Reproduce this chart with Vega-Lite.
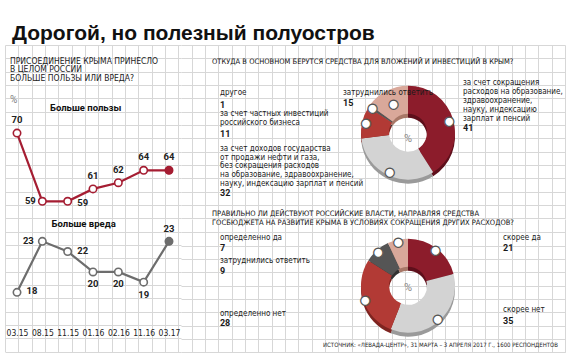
{
  "$schema": "https://vega.github.io/schema/vega-lite/v6.json",
  "background": "white",
  "padding": {"left": 5, "top": 23, "right": 5, "bottom": 5},
  "bounds": "flush",
  "spacing": 0,
  "title": {"text": "Дорогой, но полезный полуостров", "anchor": "start", "dx": 7, "offset": 1, "font": "Liberation Sans, Arial, sans-serif", "fontSize": 21, "fontWeight": "bold", "color": "#111111"},
  "config": {"view": {"stroke": null}},
  "datasets": {
    "good": [
      {"date": "03.15", "value": 70}, {"date": "08.15", "value": 59}, {"date": "11.15", "value": 59},
      {"date": "01.16", "value": 61}, {"date": "02.16", "value": 62}, {"date": "11.16", "value": 64}, {"date": "03.17", "value": 64}
    ],
    "bad": [
      {"date": "03.15", "value": 18}, {"date": "08.15", "value": 23}, {"date": "11.15", "value": 22},
      {"date": "01.16", "value": 20}, {"date": "02.16", "value": 20}, {"date": "11.16", "value": 19}, {"date": "03.17", "value": 23}
    ],
    "q1": [
      {"n": 1, "answer": "за счет сокращения\nрасходов на образование,\nздравоохранение,\nнауку, индексацию\nзарплат и пенсий", "value": 41},
      {"n": 2, "answer": "за счет доходов государства\nот продажи нефти и газа,\nбез сокращения расходов\nна образование, здравоохранение,\nнауку, индексацию зарплат и пенсий", "value": 32},
      {"n": 3, "answer": "за счет частных инвестиций\nроссийского бизнеса", "value": 11},
      {"n": 4, "answer": "другое", "value": 1},
      {"n": 5, "answer": "затруднились ответить", "value": 15}
    ],
    "q2": [
      {"n": 1, "answer": "скорее да", "value": 21},
      {"n": 2, "answer": "скорее нет", "value": 35},
      {"n": 3, "answer": "определенно нет", "value": 28},
      {"n": 4, "answer": "затруднились ответить", "value": 9},
      {"n": 5, "answer": "определенно да", "value": 7}
    ]
  },
  "hconcat": [
    {
      "width": 176,
      "height": 306.6,
      "title": {"text": ["ПРИСОЕДИНЕНИЕ КРЫМА ПРИНЕСЛО", "В ЦЕЛОМ РОССИИ", "БОЛЬШЕ ПОЛЬЗЫ ИЛИ ВРЕДА?"], "subtitle": "%", "anchor": "start", "dx": 5, "offset": -60, "font": "Liberation Sans Narrow, Arial Narrow, DejaVu Sans Condensed, sans-serif", "fontSize": 8.5, "fontWeight": "normal", "lineHeight": 8.5, "color": "#222222", "subtitleFont": "Roboto", "subtitleFontSize": 10, "subtitleColor": "#808080", "subtitlePadding": 13},
      "resolve": {"scale": {"x": "independent", "y": "independent"}},
      "layer": [
        {
          "data": {"values": [{}]},
          "mark": {"type": "point", "opacity": 0},
          "encoding": {
            "x": {"datum": 100, "type": "quantitative", "scale": {"domain": [5, 181], "nice": false, "zero": false},
                  "axis": {"orient": "top", "grid": true, "gridColor": "#d7d7d7", "gridWidth": 1, "labels": false, "ticks": false, "domain": false, "title": null,
                           "values": [5, 18.33, 31.67, 45, 58.33, 71.67, 85, 98.33, 111.67, 125, 138.33, 151.67, 165, 178.33]}},
            "y": {"datum": 100, "type": "quantitative", "scale": {"domain": [46.7, 353.3], "reverse": true, "nice": false, "zero": false},
                  "axis": {"orient": "left", "grid": true, "gridColor": "#d7d7d7", "gridWidth": 1, "labels": false, "ticks": false, "domain": false, "title": null,
                           "values": [46.7, 60, 73.3, 86.7, 100, 113.3, 126.7, 140, 153.3, 166.7, 180, 193.3, 206.7, 220, 233.3, 246.7, 260, 273.3, 286.7, 300, 313.3, 326.7, 340, 353.3]}}
          }
        },
        {
          "data": {"name": "good"},
          "encoding": {
            "x": {"field": "date", "type": "ordinal", "scale": {"type": "point", "domain": ["03.15", "08.15", "11.15", "01.16", "02.16", "11.16", "03.17"], "padding": 0.474},
                  "axis": {"orient": "bottom", "offset": -19.3, "labelBaseline": "middle", "labelPadding": 0, "ticks": false, "domain": false, "grid": false, "title": null, "labelAngle": 0, "labelFont": "Liberation Sans Narrow, Arial Narrow, DejaVu Sans Condensed, sans-serif", "labelFontSize": 8.5, "labelColor": "#222222"}},
            "y": {"field": "value", "type": "quantitative", "scale": {"domain": [34.76, 84.21], "nice": false, "zero": false}, "axis": null}
          },
          "layer": [
            {"mark": {"type": "line", "color": "#a51d32", "strokeWidth": 2.2}},
            {"mark": {"type": "point", "filled": true, "fill": "white", "stroke": "#a51d32", "strokeWidth": 1.6, "size": 55, "opacity": 1}},
            {"transform": [{"filter": {"field": "date", "equal": "03.17"}}], "mark": {"type": "point", "filled": true, "color": "#a51d32", "size": 60, "opacity": 1}},
            {"transform": [{"filter": {"field": "date", "oneOf": ["03.15", "01.16", "02.16", "11.16", "03.17"]}}],
             "mark": {"type": "text", "dy": -13, "font": "Roboto", "fontWeight": "bold", "fontSize": 9.5, "color": "#222222"}, "encoding": {"text": {"field": "value", "type": "quantitative"}}},
            {"transform": [{"filter": {"field": "date", "equal": "08.15"}}],
             "mark": {"type": "text", "dx": -12, "font": "Roboto", "fontWeight": "bold", "fontSize": 9.5, "color": "#222222"}, "encoding": {"text": {"field": "value", "type": "quantitative"}}},
            {"transform": [{"filter": {"field": "date", "equal": "11.15"}}],
             "mark": {"type": "text", "dx": 15, "dy": 2, "font": "Roboto", "fontWeight": "bold", "fontSize": 9.5, "color": "#222222"}, "encoding": {"text": {"field": "value", "type": "quantitative"}}},
            {"transform": [{"filter": {"field": "date", "equal": "11.15"}}],
             "mark": {"type": "text", "text": "Больше пользы", "dx": 18, "dy": 2, "font": "Roboto", "fontWeight": "bold", "fontSize": 9.5, "color": "#111111"},
             "encoding": {"y": {"datum": 74.32, "type": "quantitative"}}}
          ]
        },
        {
          "data": {"name": "bad"},
          "encoding": {
            "x": {"field": "date", "type": "ordinal", "scale": {"type": "point", "domain": ["03.15", "08.15", "11.15", "01.16", "02.16", "11.16", "03.17"], "padding": 0.474}, "axis": null},
            "y": {"field": "value", "type": "quantitative", "scale": {"domain": [12.19, 42.25], "nice": false, "zero": false}, "axis": null}
          },
          "layer": [
            {"mark": {"type": "line", "color": "#6d6d6d", "strokeWidth": 2.2}},
            {"mark": {"type": "point", "filled": true, "fill": "white", "stroke": "#6d6d6d", "strokeWidth": 1.6, "size": 55, "opacity": 1}},
            {"transform": [{"filter": {"field": "date", "equal": "03.17"}}], "mark": {"type": "point", "filled": true, "color": "#6d6d6d", "size": 60, "opacity": 1}},
            {"transform": [{"filter": {"field": "date", "oneOf": ["03.15", "11.15"]}}],
             "mark": {"type": "text", "dx": 15, "dy": -1, "font": "Roboto", "fontWeight": "bold", "fontSize": 9.5, "color": "#222222"}, "encoding": {"text": {"field": "value", "type": "quantitative"}}},
            {"transform": [{"filter": {"field": "date", "equal": "08.15"}}],
             "mark": {"type": "text", "dx": -14, "font": "Roboto", "fontWeight": "bold", "fontSize": 9.5, "color": "#222222"}, "encoding": {"text": {"field": "value", "type": "quantitative"}}},
            {"transform": [{"filter": {"field": "date", "oneOf": ["01.16", "02.16", "11.16"]}}],
             "mark": {"type": "text", "dy": 12.5, "font": "Roboto", "fontWeight": "bold", "fontSize": 9.5, "color": "#222222"}, "encoding": {"text": {"field": "value", "type": "quantitative"}}},
            {"transform": [{"filter": {"field": "date", "equal": "03.17"}}],
             "mark": {"type": "text", "dy": -12, "font": "Roboto", "fontWeight": "bold", "fontSize": 9.5, "color": "#222222"}, "encoding": {"text": {"field": "value", "type": "quantitative"}}},
            {"transform": [{"filter": {"field": "date", "equal": "11.15"}}],
             "mark": {"type": "text", "text": "Больше вреда", "dx": 16, "font": "Roboto", "fontWeight": "bold", "fontSize": 9.5, "color": "#111111"},
             "encoding": {"y": {"datum": 24.67, "type": "quantitative"}}}
          ]
        }
      ]
    },
    {
      "spacing": 0,
      "bounds": "flush",
      "title": {"text": "ИСТОЧНИК: «ЛЕВАДА-ЦЕНТР», 31 МАРТА – 3 АПРЕЛЯ 2017 Г., 1600 РЕСПОНДЕНТОВ", "orient": "bottom", "anchor": "end", "dx": -7, "offset": -10, "font": "Liberation Sans Narrow, Arial Narrow, DejaVu Sans Condensed, sans-serif", "fontSize": 6, "fontWeight": "normal", "color": "#222222"},
      "vconcat": [
        {
          "width": 384,
          "height": 173.3,
          "title": {"text": "ОТКУДА В ОСНОВНОМ БЕРУТСЯ СРЕДСТВА ДЛЯ ВЛОЖЕНИЙ И ИНВЕСТИЦИЙ В КРЫМ?", "anchor": "start", "dx": 31, "offset": -20, "font": "Liberation Sans Narrow, Arial Narrow, DejaVu Sans Condensed, sans-serif", "fontSize": 7.5, "fontWeight": "normal", "color": "#111111"},
          "layer": [
            {
              "data": {"values": [{}]},
              "mark": {"type": "point", "opacity": 0},
              "encoding": {
                "x": {"datum": 300, "type": "quantitative", "scale": {"domain": [181, 565], "nice": false, "zero": false},
                      "axis": {"orient": "top", "grid": true, "gridColor": "#d7d7d7", "gridWidth": 1, "labels": false, "ticks": false, "domain": false, "title": null,
                               "values": [191.67, 205, 218.33, 231.67, 245, 258.33, 271.67, 285, 298.33, 311.67, 325, 338.33, 351.67, 365, 378.33, 391.67, 405, 418.33, 431.67, 445, 458.33, 471.67, 485, 498.33, 511.67, 525, 538.33, 551.67, 565]}},
                "y": {"datum": 100, "type": "quantitative", "scale": {"domain": [46.7, 220], "reverse": true, "nice": false, "zero": false},
                      "axis": {"orient": "left", "grid": true, "gridColor": "#d7d7d7", "gridWidth": 1, "labels": false, "ticks": false, "domain": false, "title": null,
                               "values": [46.7, 60, 73.3, 86.7, 100, 113.3, 126.7, 140, 153.3, 166.7, 180, 193.3, 206.7, 220]}}
              }
            },
            {
              "data": {"name": "q1"},
              "encoding": {
                "theta": {"field": "value", "type": "quantitative", "stack": true},
                "order": {"field": "n", "type": "quantitative"}
              },
              "layer": [
                {"mark": {"type": "arc", "outerRadius": 47, "innerRadius": 19, "xOffset": 35, "yOffset": 5},
                 "encoding": {"fill": {"field": "n", "type": "nominal", "scale": {"domain": [1, 2, 3, 4, 5], "range": ["#5e0f1b", "#9a9a9a", "#7e2420", "#333333", "#a87868"]}, "legend": null}}},
                {"mark": {"type": "arc", "outerRadius": 47, "innerRadius": 19, "xOffset": 35, "yOffset": 1},
                 "encoding": {"color": {"field": "n", "type": "nominal", "scale": {"domain": [1, 2, 3, 4, 5], "range": ["#8c1c2b", "#d3d3d3", "#b23a35", "#555555", "#d9a89a"]}, "legend": null}}},
                {"mark": {"type": "text", "radius": 43, "xOffset": 35, "yOffset": 1, "font": "DejaVu Sans", "fontSize": 12, "fill": "white", "stroke": "#555555", "strokeWidth": 1.2, "align": "center", "baseline": "middle"},
                 "encoding": {"detail": {"field": "n", "type": "nominal"}, "text": {"condition": {"test": "datum.n != 5", "value": "●"}, "value": ""}}},
                {"mark": {"type": "text", "radius": 32, "xOffset": 35, "yOffset": 1, "font": "DejaVu Sans", "fontSize": 12, "fill": "white", "stroke": "#555555", "strokeWidth": 1.2, "align": "center", "baseline": "middle"},
                 "encoding": {"detail": {"field": "n", "type": "nominal"}, "text": {"condition": {"test": "datum.n == 5", "value": "●"}, "value": ""}}},
                {"mark": {"type": "text", "radius": 50, "xOffset": 35, "yOffset": 1, "dx": 7, "dy": -36, "align": "left", "baseline": "middle", "lineBreak": "\n", "font": "Liberation Sans Narrow, Arial Narrow, DejaVu Sans Condensed, sans-serif", "fontSize": 8, "lineHeight": 9, "color": "#1a1a1a"},
                 "encoding": {"detail": {"field": "n", "type": "nominal"}, "text": {"condition": {"test": "datum.n == 1", "field": "answer", "type": "nominal"}, "value": ""}}},
                {"mark": {"type": "text", "radius": 50, "xOffset": 35, "yOffset": 1, "dx": 7, "dy": 9.5, "align": "left", "baseline": "middle", "font": "Roboto", "fontWeight": "bold", "fontSize": 9, "color": "#1a1a1a"},
                 "encoding": {"detail": {"field": "n", "type": "nominal"}, "text": {"condition": {"test": "datum.n == 1", "field": "value", "type": "quantitative"}, "value": ""}}},
                {"mark": {"type": "text", "radius": 50, "xOffset": 35, "yOffset": 1, "dx": -166.7, "dy": -28.7, "align": "left", "baseline": "middle", "lineBreak": "\n", "font": "Liberation Sans Narrow, Arial Narrow, DejaVu Sans Condensed, sans-serif", "fontSize": 8, "lineHeight": 8.6, "color": "#1a1a1a"},
                 "encoding": {"detail": {"field": "n", "type": "nominal"}, "text": {"condition": {"test": "datum.n == 2", "field": "answer", "type": "nominal"}, "value": ""}}},
                {"mark": {"type": "text", "radius": 50, "xOffset": 35, "yOffset": 1, "dx": -166.7, "dy": 15.5, "align": "left", "baseline": "middle", "font": "Roboto", "fontWeight": "bold", "fontSize": 9, "color": "#1a1a1a"},
                 "encoding": {"detail": {"field": "n", "type": "nominal"}, "text": {"condition": {"test": "datum.n == 2", "field": "value", "type": "quantitative"}, "value": ""}}},
                {"mark": {"type": "text", "radius": 50, "xOffset": 35, "yOffset": 1, "dx": -139.2, "dy": -7.6, "align": "left", "baseline": "middle", "lineBreak": "\n", "font": "Liberation Sans Narrow, Arial Narrow, DejaVu Sans Condensed, sans-serif", "fontSize": 8, "lineHeight": 9, "color": "#1a1a1a"},
                 "encoding": {"detail": {"field": "n", "type": "nominal"}, "text": {"condition": {"test": "datum.n == 3", "field": "answer", "type": "nominal"}, "value": ""}}},
                {"mark": {"type": "text", "radius": 50, "xOffset": 35, "yOffset": 1, "dx": -139.2, "dy": 12, "align": "left", "baseline": "middle", "font": "Roboto", "fontWeight": "bold", "fontSize": 9, "color": "#1a1a1a"},
                 "encoding": {"detail": {"field": "n", "type": "nominal"}, "text": {"condition": {"test": "datum.n == 3", "field": "value", "type": "quantitative"}, "value": ""}}},
                {"mark": {"type": "text", "radius": 50, "xOffset": 35, "yOffset": 1, "dx": -146.6, "dy": -11.4, "align": "left", "baseline": "middle", "font": "Liberation Sans Narrow, Arial Narrow, DejaVu Sans Condensed, sans-serif", "fontSize": 8, "color": "#1a1a1a"},
                 "encoding": {"detail": {"field": "n", "type": "nominal"}, "text": {"condition": {"test": "datum.n == 4", "field": "answer", "type": "nominal"}, "value": ""}}},
                {"mark": {"type": "text", "radius": 50, "xOffset": 35, "yOffset": 1, "dx": -146.6, "dy": 0, "align": "left", "baseline": "middle", "font": "Roboto", "fontWeight": "bold", "fontSize": 9, "color": "#1a1a1a"},
                 "encoding": {"detail": {"field": "n", "type": "nominal"}, "text": {"condition": {"test": "datum.n == 4", "field": "value", "type": "quantitative"}, "value": ""}}},
                {"mark": {"type": "text", "radius": 50, "xOffset": 35, "yOffset": 1, "dx": -42.3, "dy": 5.1, "align": "left", "baseline": "middle", "font": "Liberation Sans Narrow, Arial Narrow, DejaVu Sans Condensed, sans-serif", "fontSize": 8, "color": "#1a1a1a"},
                 "encoding": {"detail": {"field": "n", "type": "nominal"}, "text": {"condition": {"test": "datum.n == 5", "field": "answer", "type": "nominal"}, "value": ""}}},
                {"mark": {"type": "text", "radius": 50, "xOffset": 35, "yOffset": 1, "dx": -42.3, "dy": 14.6, "align": "left", "baseline": "middle", "font": "Roboto", "fontWeight": "bold", "fontSize": 9, "color": "#1a1a1a"},
                 "encoding": {"detail": {"field": "n", "type": "nominal"}, "text": {"condition": {"test": "datum.n == 5", "field": "value", "type": "quantitative"}, "value": ""}}}
              ]
            },
            {
              "data": {"values": [{}]},
              "mark": {"type": "text", "text": "%", "xOffset": 35, "yOffset": 1, "dy": 6, "font": "Roboto", "fontSize": 11, "color": "#888888"},
              "encoding": {}
            }
          ]
        },
        {
          "width": 384,
          "height": 133.3,
          "title": {"text": ["ПРАВИЛЬНО ЛИ ДЕЙСТВУЮТ РОССИЙСКИЕ ВЛАСТИ, НАПРАВЛЯЯ СРЕДСТВА", "ГОСБЮДЖЕТА НА РАЗВИТИЕ КРЫМА В УСЛОВИЯХ СОКРАЩЕНИЯ ДРУГИХ РАСХОДОВ?"], "anchor": "start", "dx": 31, "offset": -7, "lineHeight": 9, "font": "Liberation Sans Narrow, Arial Narrow, DejaVu Sans Condensed, sans-serif", "fontSize": 7.5, "fontWeight": "normal", "color": "#111111"},
          "layer": [
            {
              "data": {"values": [{}]},
              "mark": {"type": "point", "opacity": 0},
              "encoding": {
                "x": {"datum": 300, "type": "quantitative", "scale": {"domain": [181, 565], "nice": false, "zero": false},
                      "axis": {"orient": "top", "grid": true, "gridColor": "#d7d7d7", "gridWidth": 1, "labels": false, "ticks": false, "domain": false, "title": null,
                               "values": [191.67, 205, 218.33, 231.67, 245, 258.33, 271.67, 285, 298.33, 311.67, 325, 338.33, 351.67, 365, 378.33, 391.67, 405, 418.33, 431.67, 445, 458.33, 471.67, 485, 498.33, 511.67, 525, 538.33, 551.67, 565]}},
                "y": {"datum": 300, "type": "quantitative", "scale": {"domain": [220, 353.3], "reverse": true, "nice": false, "zero": false},
                      "axis": {"orient": "left", "grid": true, "gridColor": "#d7d7d7", "gridWidth": 1, "labels": false, "ticks": false, "domain": false, "title": null,
                               "values": [233.3, 246.7, 260, 273.3, 286.7, 300, 313.3, 326.7, 340, 353.3]}}
              }
            },
            {
              "data": {"name": "q2"},
              "encoding": {
                "theta": {"field": "value", "type": "quantitative", "stack": true},
                "order": {"field": "n", "type": "quantitative"}
              },
              "layer": [
                {"mark": {"type": "arc", "outerRadius": 47, "innerRadius": 19, "xOffset": 35, "yOffset": 4},
                 "encoding": {"fill": {"field": "n", "type": "nominal", "scale": {"domain": [1, 2, 3, 4, 5], "range": ["#9a9a9a", "#7e2420", "#444444", "#a87868", "#5e0f1b"]}, "legend": null}}},
                {"mark": {"type": "arc", "outerRadius": 47, "innerRadius": 19, "xOffset": 35, "yOffset": 0},
                 "encoding": {"color": {"field": "n", "type": "nominal", "scale": {"domain": [1, 2, 3, 4, 5], "range": ["#d3d3d3", "#b5423b", "#6b6b6b", "#d9a89a", "#8c1c2b"]}, "legend": null}}},
                {"mark": {"type": "text", "radius": 45, "xOffset": 35, "yOffset": 0, "font": "DejaVu Sans", "fontSize": 12, "fill": "white", "stroke": "#555555", "strokeWidth": 1.2, "align": "center", "baseline": "middle"},
                 "encoding": {"detail": {"field": "n", "type": "nominal"}, "text": {"value": "●"}}},
                {"mark": {"type": "text", "radius": 50, "xOffset": 35, "yOffset": 0, "dx": 64.4, "dy": -8.6, "align": "left", "baseline": "middle", "font": "Liberation Sans Narrow, Arial Narrow, DejaVu Sans Condensed, sans-serif", "fontSize": 8, "color": "#1a1a1a"},
                 "encoding": {"detail": {"field": "n", "type": "nominal"}, "text": {"condition": {"test": "datum.n == 1", "field": "answer", "type": "nominal"}, "value": ""}}},
                {"mark": {"type": "text", "radius": 50, "xOffset": 35, "yOffset": 0, "dx": 64.4, "dy": 1.9, "align": "left", "baseline": "middle", "font": "Roboto", "fontWeight": "bold", "fontSize": 9, "color": "#1a1a1a"},
                 "encoding": {"detail": {"field": "n", "type": "nominal"}, "text": {"condition": {"test": "datum.n == 1", "field": "value", "type": "quantitative"}, "value": ""}}},
                {"mark": {"type": "text", "radius": 50, "xOffset": 35, "yOffset": 0, "dx": 61.9, "dy": -12.7, "align": "left", "baseline": "middle", "font": "Liberation Sans Narrow, Arial Narrow, DejaVu Sans Condensed, sans-serif", "fontSize": 8, "color": "#1a1a1a"},
                 "encoding": {"detail": {"field": "n", "type": "nominal"}, "text": {"condition": {"test": "datum.n == 2", "field": "answer", "type": "nominal"}, "value": ""}}},
                {"mark": {"type": "text", "radius": 50, "xOffset": 35, "yOffset": 0, "dx": 61.9, "dy": -2.2, "align": "left", "baseline": "middle", "font": "Roboto", "fontWeight": "bold", "fontSize": 9, "color": "#1a1a1a"},
                 "encoding": {"detail": {"field": "n", "type": "nominal"}, "text": {"condition": {"test": "datum.n == 2", "field": "value", "type": "quantitative"}, "value": ""}}},
                {"mark": {"type": "text", "radius": 50, "xOffset": 35, "yOffset": 0, "dx": -140.5, "dy": 12.4, "align": "left", "baseline": "middle", "font": "Liberation Sans Narrow, Arial Narrow, DejaVu Sans Condensed, sans-serif", "fontSize": 8, "color": "#1a1a1a"},
                 "encoding": {"detail": {"field": "n", "type": "nominal"}, "text": {"condition": {"test": "datum.n == 3", "field": "answer", "type": "nominal"}, "value": ""}}},
                {"mark": {"type": "text", "radius": 50, "xOffset": 35, "yOffset": 0, "dx": -140.5, "dy": 21.9, "align": "left", "baseline": "middle", "font": "Roboto", "fontWeight": "bold", "fontSize": 9, "color": "#1a1a1a"},
                 "encoding": {"detail": {"field": "n", "type": "nominal"}, "text": {"condition": {"test": "datum.n == 3", "field": "value", "type": "quantitative"}, "value": ""}}},
                {"mark": {"type": "text", "radius": 50, "xOffset": 35, "yOffset": 0, "dx": -154.9, "dy": 13, "align": "left", "baseline": "middle", "font": "Liberation Sans Narrow, Arial Narrow, DejaVu Sans Condensed, sans-serif", "fontSize": 8, "color": "#1a1a1a"},
                 "encoding": {"detail": {"field": "n", "type": "nominal"}, "text": {"condition": {"test": "datum.n == 4", "field": "answer", "type": "nominal"}, "value": ""}}},
                {"mark": {"type": "text", "radius": 50, "xOffset": 35, "yOffset": 0, "dx": -154.9, "dy": 22.5, "align": "left", "baseline": "middle", "font": "Roboto", "fontWeight": "bold", "fontSize": 9, "color": "#1a1a1a"},
                 "encoding": {"detail": {"field": "n", "type": "nominal"}, "text": {"condition": {"test": "datum.n == 4", "field": "value", "type": "quantitative"}, "value": ""}}},
                {"mark": {"type": "text", "radius": 50, "xOffset": 35, "yOffset": 0, "dx": -177.1, "dy": 0.7, "align": "left", "baseline": "middle", "font": "Liberation Sans Narrow, Arial Narrow, DejaVu Sans Condensed, sans-serif", "fontSize": 8, "color": "#1a1a1a"},
                 "encoding": {"detail": {"field": "n", "type": "nominal"}, "text": {"condition": {"test": "datum.n == 5", "field": "answer", "type": "nominal"}, "value": ""}}},
                {"mark": {"type": "text", "radius": 50, "xOffset": 35, "yOffset": 0, "dx": -177.1, "dy": 11.2, "align": "left", "baseline": "middle", "font": "Roboto", "fontWeight": "bold", "fontSize": 9, "color": "#1a1a1a"},
                 "encoding": {"detail": {"field": "n", "type": "nominal"}, "text": {"condition": {"test": "datum.n == 5", "field": "value", "type": "quantitative"}, "value": ""}}}
              ]
            },
            {
              "data": {"values": [{}]},
              "mark": {"type": "text", "text": "%", "xOffset": 35, "yOffset": 0, "dy": 2, "font": "Roboto", "fontSize": 11, "color": "#888888"},
              "encoding": {}
            }
          ]
        }
      ]
    }
  ]
}
